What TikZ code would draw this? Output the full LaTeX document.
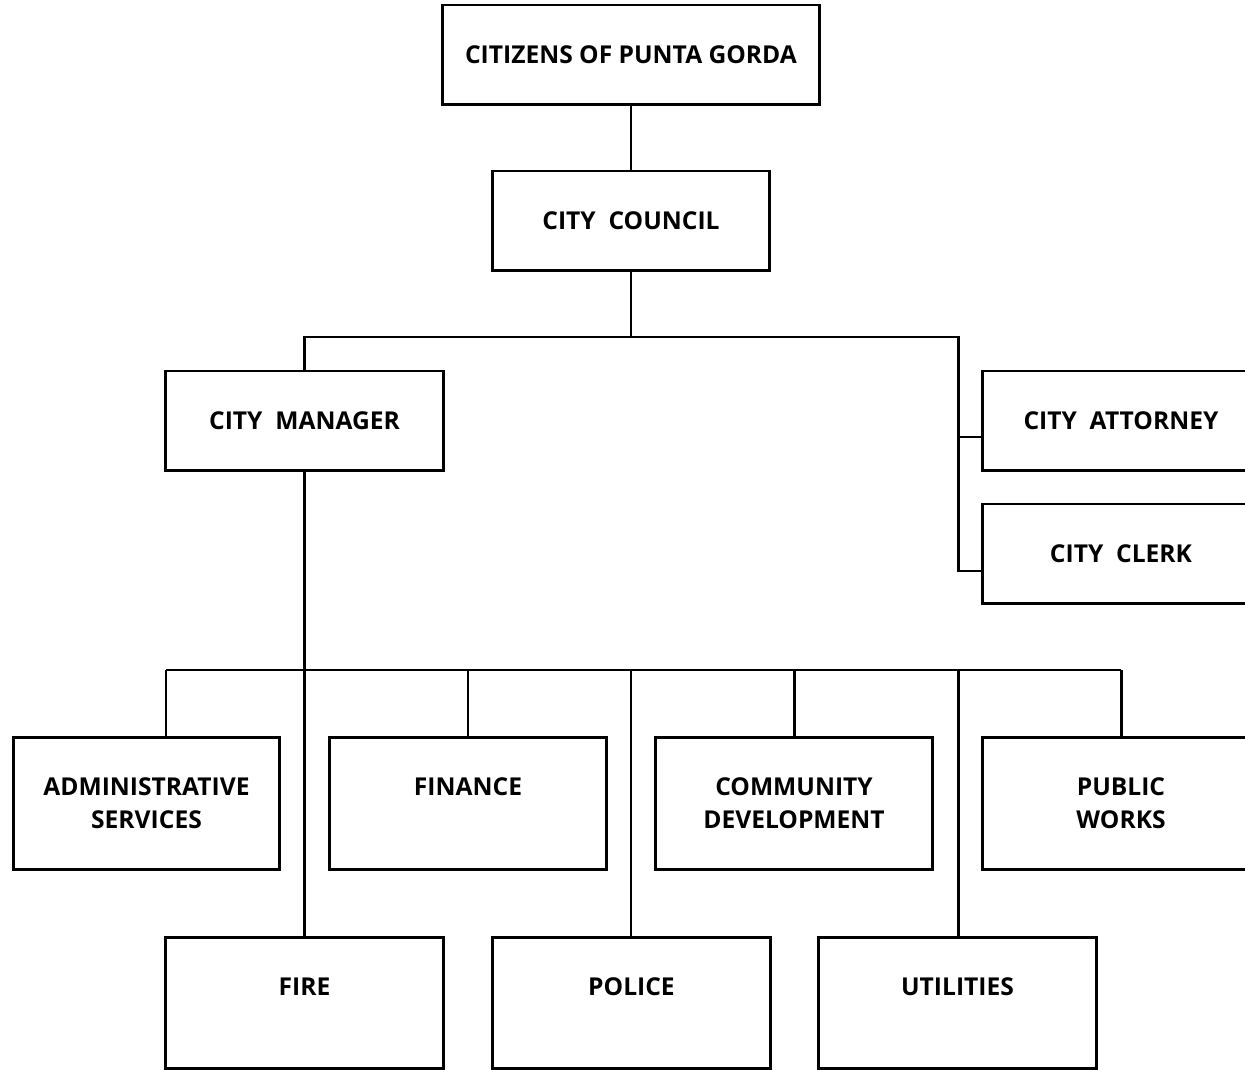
\documentclass[tikz,border=0pt]{standalone}
\usepackage{fontspec}
\setmainfont{Open Sans}
\usetikzlibrary{positioning}

\tikzset{
  orgbox/.style={draw, line width=1.7pt, minimum width=5.56cm, minimum height=2cm,
    inner sep=0pt, align=center, font=\fontsize{14}{19}\selectfont\bfseries},
  deptbox/.style={orgbox, minimum height=2.66cm},
  link/.style={line width=1.7pt},
}

\begin{document}
\begin{tikzpicture}[x=0.02cm,y=-0.02cm]
  \useasboundingbox (0,0) rectangle (1245,1070);
  \clip (0,0) rectangle (1245,1070);
  % Top of the chart
  \node[orgbox, minimum width=7.56cm] (citizens) at (631,55) {CITIZENS OF PUNTA GORDA};
  \node[orgbox] (council) at (631,221) {CITY~~COUNCIL};
  \node[orgbox] (manager) at (304.5,421) {CITY~~MANAGER};
  \node[orgbox] (attorney) at (1121,421) {CITY~~ATTORNEY};
  \node[orgbox] (clerk) at (1121,554) {CITY~~CLERK};
  % Departments
  \node[deptbox, minimum width=5.34cm] (admin) at (146.5,803.5) {ADMINISTRATIVE\\SERVICES};
  \node[deptbox] (finance) at (468,803.5) {FINANCE\\\phantom{X}};
  \node[deptbox] (comdev) at (794,803.5) {COMMUNITY\\DEVELOPMENT};
  \node[deptbox] (works) at (1121,803.5) {PUBLIC\\WORKS};
  \node[deptbox, minimum height=2.64cm] (fire) at (304.5,1003) {FIRE\\\phantom{X}};
  \node[deptbox, minimum height=2.64cm] (police) at (631.5,1003) {POLICE\\\phantom{X}};
  \node[deptbox, minimum height=2.64cm] (utilities) at (957.5,1003) {UTILITIES\\\phantom{X}};
  % Junction points
  \coordinate (split) at (631,337);
  \coordinate (rail) at (958,571);
  \coordinate (attytick) at (982,437);
  \coordinate (bus) at (166,670);
  % Connectors
  \draw[link] (citizens) -- (council);
  \draw[link] (council) -- (split);
  \draw[link] (manager.north) |- (split) -| (rail) -- (rail -| clerk.west);
  \draw[link] (attytick) -- (attytick -| rail);
  \draw[link] (manager.south) -- (fire.north);
  \draw[link] (bus) -- (works.north |- bus);
  \draw[link] (bus) -- (bus |- admin.north);
  \foreach \dept in {finance,comdev,works}
    \draw[link] (\dept.north) -- (\dept.north |- bus);
  \draw[link] (631,670) -- (631,937);
  \draw[link] (958,670) -- (958,937);
\end{tikzpicture}
\end{document}
